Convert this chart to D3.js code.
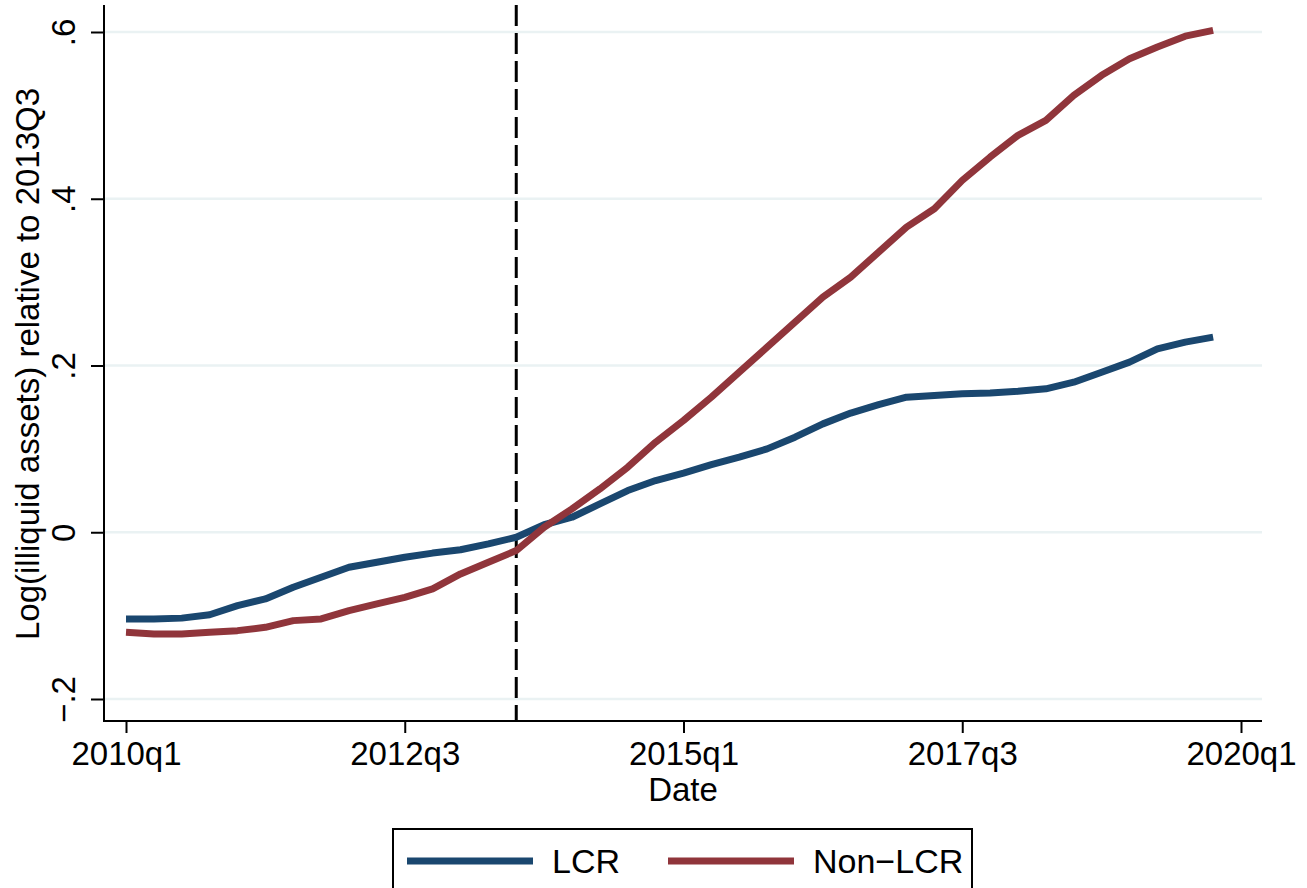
<!DOCTYPE html>
<html>
<head>
<meta charset="utf-8">
<script src="https://cdn.jsdelivr.net/npm/d3@7"></script>
<style>
  body { margin: 0; background: #fff; }
  text { font-family: "Liberation Sans", Arial, Helvetica, sans-serif; fill: #000; }
</style>
</head>
<body>
<svg id="chart" width="1307" height="888"></svg>
<script>
// quarterly index: 0 = 2010q1 ... 39 = 2019q4
const quarters = d3.range(40);

const lcr = [
  -0.104, -0.104, -0.103, -0.099, -0.088, -0.080, -0.066, -0.054, -0.042, -0.036,
  -0.030, -0.025, -0.021, -0.014, -0.006, 0.009, 0.018, 0.034, 0.050, 0.062,
  0.071, 0.081, 0.090, 0.100, 0.114, 0.130, 0.143, 0.153, 0.162, 0.164,
  0.166, 0.167, 0.169, 0.172, 0.180, 0.192, 0.204, 0.220, 0.228, 0.234
];

const nonLcr = [
  -0.120, -0.122, -0.122, -0.120, -0.118, -0.114, -0.106, -0.104, -0.094, -0.086,
  -0.078, -0.068, -0.050, -0.036, -0.022, 0.006, 0.028, 0.052, 0.078, 0.108,
  0.134, 0.162, 0.192, 0.222, 0.252, 0.282, 0.306, 0.336, 0.366, 0.388,
  0.422, 0.450, 0.476, 0.494, 0.524, 0.548, 0.568, 0.582, 0.595, 0.602
];

const xTicks = [0, 10, 20, 30, 40];
const xTickLabels = ["2010q1", "2012q3", "2015q1", "2017q3", "2020q1"];
const yTicks = [-0.2, 0, 0.2, 0.4, 0.6];
const yTickLabels = ["\u2212.2", "0", ".2", ".4", ".6"];
const eventQuarter = 14; // 2013q3

const seriesNames = ["LCR", "Non\u2212LCR"];
const colors = ["#1a476f", "#90353b"];

const svg = d3.select("#chart");

let x = d3.scaleLinear()
          .domain([0, 40])
          .range([126, 1241]);

let y = d3.scaleLinear()
          .domain([-0.2, 0.6])
          .range([699, 32]);

const plotLeft = 104, plotRight = 1262, plotTop = 5, plotBottom = 721;

// grid lines
svg.append("g")
   .selectAll("line")
   .data(yTicks)
   .enter()
   .append("line")
   .attr("x1", plotLeft + 1)
   .attr("x2", plotRight)
   .attr("y1", d => y(d))
   .attr("y2", d => y(d))
   .attr("stroke", "#eaf2f3")
   .attr("stroke-width", 2.5);

// y axis
let yAxis = d3.axisLeft(y)
              .tickValues(yTicks)
              .tickSize(13)
              .tickFormat((d, i) => yTickLabels[i]);

let gy = svg.append("g")
            .attr("transform", `translate(${plotLeft},0)`)
            .call(yAxis);
gy.select(".domain").remove();
gy.selectAll("line").attr("stroke", "#000").attr("stroke-width", 2);
gy.selectAll("text")
  .attr("x", null)
  .attr("dy", null)
  .attr("fill", "#000")
  .attr("transform", "translate(-29,0) rotate(-90)")
  .attr("text-anchor", "middle")
  .style("font-size", "33px")
  .style("font-family", "'Liberation Sans', Arial, sans-serif");

svg.append("line")
   .attr("x1", plotLeft).attr("x2", plotLeft)
   .attr("y1", plotTop).attr("y2", plotBottom)
   .attr("stroke", "#000")
   .attr("stroke-width", 2);

// x axis
let xAxis = d3.axisBottom(x)
              .tickValues(xTicks)
              .tickSize(12)
              .tickFormat((d, i) => xTickLabels[i]);

let gx = svg.append("g")
            .attr("transform", `translate(0,${plotBottom})`)
            .call(xAxis);
gx.select(".domain").remove();
gx.selectAll("line").attr("stroke", "#000").attr("stroke-width", 2);
gx.selectAll("text")
  .attr("y", 44)
  .attr("dy", null)
  .attr("fill", "#000")
  .style("font-size", "33px")
  .style("font-family", "'Liberation Sans', Arial, sans-serif");

svg.append("line")
   .attr("x1", plotLeft - 1).attr("x2", plotRight)
   .attr("y1", plotBottom).attr("y2", plotBottom)
   .attr("stroke", "#000")
   .attr("stroke-width", 2);

// axis titles
svg.append("text")
   .attr("x", 683)
   .attr("y", 801)
   .attr("text-anchor", "middle")
   .style("font-size", "33px")
   .text("Date");

svg.append("text")
   .attr("transform", "translate(39,364) rotate(-90)")
   .attr("text-anchor", "middle")
   .style("font-size", "33px")
   .text("Log(illiquid assets) relative to 2013Q3");

// dashed event line
svg.append("line")
   .attr("x1", x(eventQuarter)).attr("x2", x(eventQuarter))
   .attr("y1", plotTop).attr("y2", plotBottom)
   .attr("stroke", "#000")
   .attr("stroke-width", 3)
   .attr("stroke-dasharray", "21,7");

// series lines
let line = d3.line()
             .x((d, i) => x(quarters[i]))
             .y(d => y(d));

[lcr, nonLcr].forEach((s, k) => {
  svg.append("path")
     .datum(s)
     .attr("d", line)
     .attr("fill", "none")
     .attr("stroke", colors[k])
     .attr("stroke-width", 7)
     .attr("stroke-linejoin", "round");
});

// legend
let legend = svg.append("g");
legend.append("rect")
      .attr("x", 393)
      .attr("y", 829)
      .attr("width", 579)
      .attr("height", 80)
      .attr("fill", "#fff")
      .attr("stroke", "#000")
      .attr("stroke-width", 2);

const legendX = [407, 668];
const legendTextX = [552, 813];
seriesNames.forEach((name, k) => {
  legend.append("line")
        .attr("x1", legendX[k])
        .attr("x2", legendX[k] + 126)
        .attr("y1", 861)
        .attr("y2", 861)
        .attr("stroke", colors[k])
        .attr("stroke-width", 7);
  legend.append("text")
        .attr("x", legendTextX[k])
        .attr("y", 873)
        .style("font-size", "34px")
        .text(name);
});
</script>
</body>
</html>
